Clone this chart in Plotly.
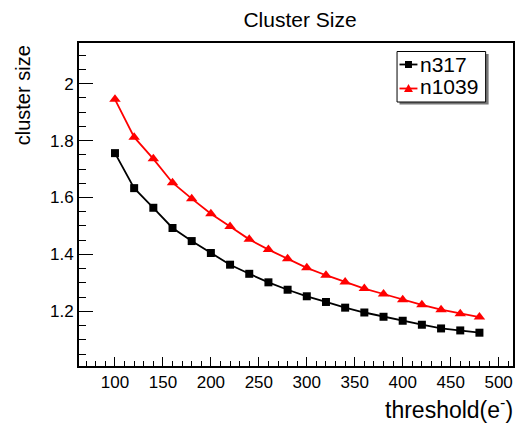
import plotly.graph_objects as go

threshold = [100, 120, 140, 160, 180, 200, 220, 240, 260, 280,
             300, 320, 340, 360, 380, 400, 420, 440, 460, 480]
n317 = [1.756, 1.633, 1.564, 1.493, 1.447, 1.405, 1.364, 1.332, 1.302, 1.276,
        1.253, 1.233, 1.213, 1.196, 1.181, 1.167, 1.153, 1.140, 1.133, 1.125]
n1039 = [1.945, 1.812, 1.736, 1.652, 1.596, 1.543, 1.498, 1.453, 1.417, 1.385,
         1.353, 1.327, 1.303, 1.280, 1.261, 1.241, 1.223, 1.206, 1.192, 1.180]
series_names = ["n317", "n1039"]
series_colors = ["black", "red"]
x_ticks = [100, 150, 200, 250, 300, 350, 400, 450, 500]
y_ticks = [1.2, 1.4, 1.6, 1.8, 2.0]
y_tick_labels = ["1.2", "1.4", "1.6", "1.8", "2"]

FONT = "Liberation Sans, Arial, sans-serif"
W, H = 518, 423
ML, MR, MT, MB = 79, 3, 43, 57
PW, PH = W - ML - MR, H - MT - MB


def px_x(p):
    return (p - ML) / PW


def px_y(p):
    return 1 - (p - MT) / PH


fig = go.Figure()
fig.add_trace(go.Scatter(x=threshold, y=n317, name=series_names[0], mode="lines+markers",
                         line=dict(color=series_colors[0], width=1.8),
                         marker=dict(symbol="square", size=8, color=series_colors[0])))
fig.add_trace(go.Scatter(x=threshold, y=n1039, name=series_names[1], mode="lines+markers",
                         line=dict(color=series_colors[1], width=1.8),
                         marker=dict(symbol="triangle-up", size=10, color=series_colors[1])))

fig.update_layout(
    width=W, height=H,
    margin=dict(l=ML, r=MR, t=MT, b=MB, pad=0),
    paper_bgcolor="white", plot_bgcolor="white",
    font=dict(family=FONT, color="black"),
    showlegend=False,
    title=dict(text="Cluster Size", x=300 / W, xref="container", xanchor="center",
               y=1 - 20 / H, yref="container", yanchor="middle",
               font=dict(size=21, family=FONT)),
    xaxis=dict(range=[62.5, 515], showgrid=False, zeroline=False,
               showline=True, linecolor="black", linewidth=2, mirror=True,
               ticks="inside", ticklen=9, tickwidth=1, tickcolor="black",
               tickvals=x_ticks, tickfont=dict(size=17),
               minor=dict(ticks="inside", ticklen=5, dtick=10, tickcolor="black", showgrid=False)),
    yaxis=dict(range=[1.008, 2.143], showgrid=False, zeroline=False,
               showline=True, linecolor="black", linewidth=2, mirror=True,
               ticks="inside", ticklen=14, tickwidth=1, tickcolor="black",
               tickvals=y_ticks, ticktext=y_tick_labels, tickfont=dict(size=17),
               minor=dict(ticks="inside", ticklen=7, dtick=0.05, tickcolor="black", showgrid=False)),
)

# axis titles (ROOT style placement)
fig.add_annotation(text="cluster size", xref="paper", yref="paper",
                   x=px_x(23), y=1, xanchor="center", yanchor="top",
                   textangle=-90, showarrow=False, font=dict(size=20, family=FONT))
fig.add_annotation(text="threshold(e<sup>-</sup>)", xref="paper", yref="paper",
                   x=px_x(517), y=px_y(408), xanchor="right", yanchor="middle",
                   showarrow=False, font=dict(size=23, family=FONT))

# ROOT-style legend box with shadow
fig.add_shape(type="rect", xref="paper", yref="paper",
              x0=px_x(401), x1=px_x(490.5), y0=px_y(104.5), y1=px_y(54),
              fillcolor="#777777", line=dict(width=0), layer="above")
fig.add_shape(type="rect", xref="paper", yref="paper",
              x0=px_x(398.5), x1=px_x(487.5), y0=px_y(102), y1=px_y(51.5),
              fillcolor="white", line=dict(color="black", width=1), layer="above")

row_y = [64.5, 88.5]
text_y = [64.5, 86.5]
for i, (name, col) in enumerate(zip(series_names, series_colors)):
    yy = row_y[i]
    fig.add_shape(type="line", xref="paper", yref="paper",
                  x0=px_x(401), x1=px_x(419), y0=px_y(yy), y1=px_y(yy),
                  line=dict(color=col, width=1.8), layer="above")
    if i == 0:
        fig.add_shape(type="rect", xref="paper", yref="paper",
                      x0=px_x(406.5), x1=px_x(413.5), y0=px_y(yy + 3.5), y1=px_y(yy - 3.5),
                      fillcolor=col, line=dict(width=0), layer="above")
    else:
        path = "M{},{} L{},{} L{},{} Z".format(
            px_x(405.5), px_y(yy + 3.5), px_x(414.5), px_y(yy + 3.5), px_x(410), px_y(yy - 4.5))
        fig.add_shape(type="path", xref="paper", yref="paper", path=path,
                      fillcolor=col, line=dict(width=0), layer="above")
    fig.add_annotation(text=name, xref="paper", yref="paper",
                       x=px_x(420), y=px_y(text_y[i]), xanchor="left", yanchor="middle",
                       showarrow=False, font=dict(size=21, family=FONT))

fig.write_html("out.html")
